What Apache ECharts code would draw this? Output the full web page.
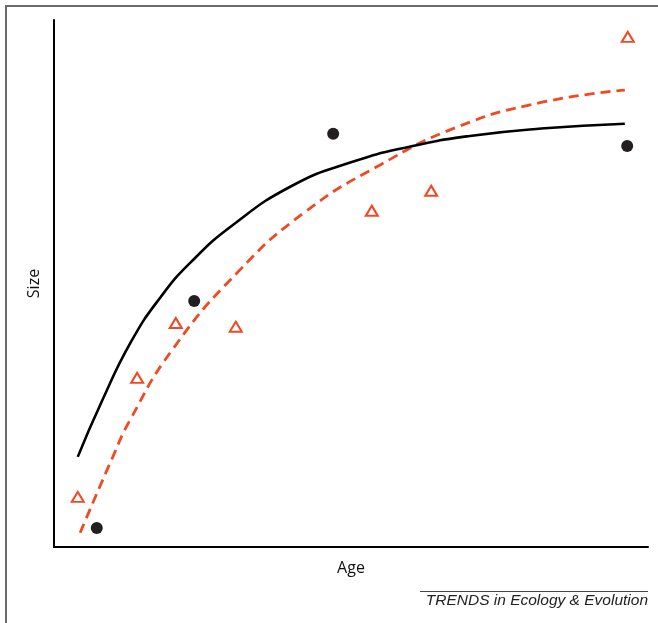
<!DOCTYPE html>
<html>
<head>
<meta charset="utf-8">
<script src="https://cdn.jsdelivr.net/npm/echarts@6/dist/echarts.min.js"></script>
<style>
  html, body { margin: 0; padding: 0; background: #fff; }
  #chart { width: 658px; height: 623px; }
</style>
</head>
<body>
<div id="chart"></div>
<script>
// observed sizes (age, size) on a 0-100 scale
var blackDots = [[7.2, 3.6], [23.6, 46.7], [47.0, 78.4], [96.5, 76.1]]
var redTriangles = [[4.0, 9.5], [14.0, 32.1], [20.5, 42.5], [30.6, 41.8], [53.5, 63.8], [63.5, 67.6], [96.6, 96.8]]

// fitted growth curves
var blackCurve = [[4.0, 17.1], [8.0, 27.5], [13.0, 39.0], [18.0, 47.5], [23.0, 54.0], [30.0, 61.0],
  [40.0, 68.5], [50.0, 73.0], [60.0, 76.0], [70.0, 78.0], [82.0, 79.4], [96.1, 80.3]]
var redCurve = [[4.4, 2.7], [9.9, 17.1], [12.8, 24.1], [19.9, 37.4], [30.8, 52.0], [42.3, 63.6],
  [54.9, 72.5], [67.9, 79.7], [81.8, 84.3], [96.1, 86.7]]

var xName = 'Age'
var yName = 'Size'
var sourceText = 'TRENDS in Ecology & Evolution'

var chart = echarts.init(document.getElementById('chart'))

chart.setOption({
  backgroundColor: '#fff',
  animation: false,
  grid: { left: 54, top: 20, right: 10, bottom: 76 },
  xAxis: {
    type: 'value',
    min: 0,
    max: 100,
    name: xName,
    nameLocation: 'middle',
    nameGap: 13,
    nameTextStyle: { fontFamily: 'Open Sans', fontSize: 16, color: '#111' },
    axisLine: { show: true, onZero: false, lineStyle: { color: '#000', width: 2 } },
    axisTick: { show: false },
    axisLabel: { show: false },
    splitLine: { show: false }
  },
  yAxis: {
    type: 'value',
    min: 0,
    max: 100,
    name: yName,
    nameLocation: 'middle',
    nameGap: 12,
    nameTextStyle: { fontFamily: 'Open Sans', fontSize: 16, color: '#111' },
    axisLine: { show: true, onZero: false, lineStyle: { color: '#000', width: 2 } },
    axisTick: { show: false },
    axisLabel: { show: false },
    splitLine: { show: false }
  },
  series: [
    {
      type: 'line',
      data: redCurve,
      smooth: true,
      showSymbol: false,
      lineStyle: { color: '#f04a24', width: 2.8, type: [10, 6] },
      z: 2
    },
    {
      type: 'line',
      data: blackCurve,
      smooth: true,
      showSymbol: false,
      lineStyle: { color: '#000', width: 2.6 },
      z: 3
    },
    {
      type: 'scatter',
      data: redTriangles,
      symbol: 'triangle',
      symbolSize: [12, 10],
      itemStyle: { color: '#fff', borderColor: '#f04a24', borderWidth: 2, opacity: 1 },
      z: 4
    },
    {
      type: 'scatter',
      data: blackDots,
      symbol: 'circle',
      symbolSize: 12,
      itemStyle: { color: '#231f20', opacity: 1 },
      z: 5
    }
  ],
  graphic: [
    // frame edges
    { type: 'line', shape: { x1: 6, y1: 5, x2: 6, y2: 623 }, style: { stroke: '#6b6b6b', lineWidth: 2 } },
    { type: 'line', shape: { x1: 5, y1: 6, x2: 658, y2: 6 }, style: { stroke: '#6b6b6b', lineWidth: 2 } },
    // source line and caption
    { type: 'line', shape: { x1: 420, y1: 591.5, x2: 648, y2: 591.5 }, style: { stroke: '#444', lineWidth: 1 } },
    {
      type: 'text',
      right: 10,
      top: 593,
      style: {
        text: sourceText,
        fontFamily: 'Liberation Sans',
        fontStyle: 'italic',
        fontSize: 15.5,
        fill: '#222'
      }
    }
  ]
})
</script>
</body>
</html>
